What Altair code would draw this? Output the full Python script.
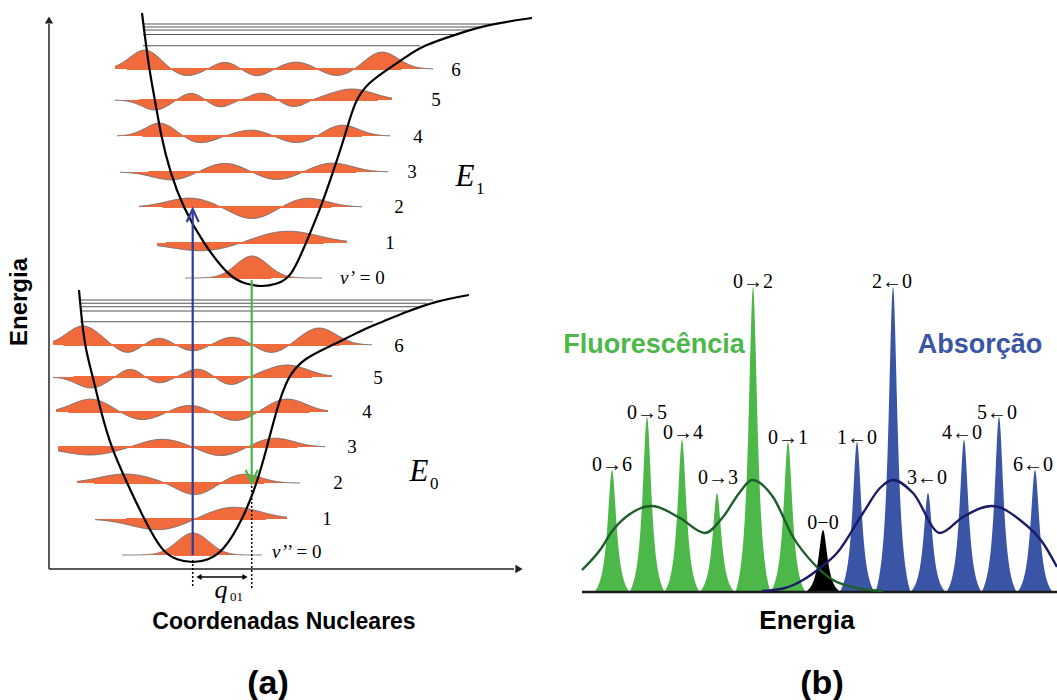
import altair as alt
import numpy as np
import pandas as pd

W, H = 1057, 700
SANS = "Liberation Sans, Arial, Helvetica, sans-serif"
SERIF = "Liberation Serif, Times New Roman, serif"
ORANGE = "#F06A3C"
GREEN = "#4DB84A"
BLUE = "#3A55A5"
ARROW_BLUE = "#2E3D9A"
ARROW_GREEN = "#45B84A"
ENV_GREEN = "#1D5E2C"
ENV_BLUE = "#1C1C66"

# ---------------- panel (a): potential curves ----------------
E0_x = [79, 84, 93, 101, 111, 127, 144, 162, 177, 193, 208, 223, 243, 257, 267, 276, 287, 304, 333, 362, 382, 406, 436, 469]
E0_y = [290, 345, 377, 412, 447, 483, 519, 552, 560, 563, 560, 552, 519, 483, 447, 412, 377, 358, 345, 330, 322, 312, 301, 295]
E1_x = [142, 149, 155, 161, 170, 183, 203, 230, 246, 262, 277, 291, 306, 321, 333, 345, 355, 368, 388, 406, 422, 457, 490, 532]
E1_y = [13, 69, 100, 136, 172, 207, 243, 278, 284, 287, 284, 278, 243, 207, 172, 136, 100, 83, 69, 57, 46, 34, 24, 18]

# dissociation-limit lines
E0_diss_y = [300, 303.3, 306.7, 311, 321.7]
E0_diss_x1 = [433, 427, 420, 407, 373]
E0_diss_x0 = 80
E1_diss_y = [24, 27, 30, 34.5, 45.7]
E1_diss_x1 = [490, 482, 472, 457, 420]
E1_diss_x0 = 143

# vibrational levels: baseline, line start/end, lobe positions and signed heights
E0_base = [555, 519, 483, 447, 412, 377, 345]
E0_start = [122, 95, 77, 58, 56, 53, 53]
E0_end = [262, 287, 300, 325, 328, 332, 372]
E0_lobe_x = [[193], [159, 233], [125, 195, 243], [90, 162, 221, 274],
             [91, 142, 190, 236, 287], [91, 130, 159, 198, 231, 287],
             [83, 127, 159, 193, 233, 272, 319]]
E0_lobe_h = [[22], [-11, 12], [9, -12, 9], [-8, 8, -9, 9],
             [13, -8, 7, -9, 13], [-11, 8, -6, 8, -8, 12],
             [19, -8, 7, -6, 8, -8, 17]]

E1_base = [278, 243, 207, 172, 136, 100, 69]
E1_start = [185, 157, 139, 120, 117, 115, 115]
E1_end = [322, 347, 362, 388, 390, 392, 433]
E1_lobe_x = [[252], [203, 287], [190, 252, 307], [172, 225, 277, 332],
             [160, 200, 252, 297, 342], [155, 191, 220, 262, 294, 352],
             [145, 186, 225, 257, 297, 338, 382]]
E1_lobe_h = [[22], [-8, 12], [9, -12, 9], [-8, 9, -8, 9],
             [13, -7, 6, -7, 11], [-10, 7, -7, 7, -7, 11],
             [19, -7, 7, -7, 7, -7, 17]]

level_labels = ["1", "2", "3", "4", "5", "6"]
E0_lab_x = [327, 338, 352, 367, 378, 399]
E0_lab_y = [519, 483, 447, 412, 378, 346]
E1_lab_x = [390, 399, 412, 418, 436, 456]
E1_lab_y = [243, 207, 172, 137, 100, 70]

# transitions
blue_x, blue_y0, blue_y1 = 192.7, 555, 209
green_x, green_y0, green_y1 = 251.7, 280, 483

# ---------------- panel (b): spectrum ----------------
base_b = 592
fl_x = [612, 647, 682, 717, 753, 788]
fl_top = [470, 417, 440, 493, 287, 442]
fl_lab = ["0→6", "0→5", "0→4", "0→3", "0→2", "0→1"]
fl_lab_x = [612, 647, 683, 718, 753, 788]
fl_lab_y = [465, 413, 433, 478, 282, 438]
ab_x = [857, 893, 928, 964, 999, 1035]
ab_top = [442, 287, 493, 440, 417, 470]
ab_lab = ["1←0", "2←0", "3←0", "4←0", "5←0", "6←0"]
ab_lab_x = [857, 892, 927, 962, 997, 1033]
ab_lab_y = [438, 282, 478, 433, 413, 465]
zz_x, zz_top = 823, 530

env_g_x = [582, 600, 613, 630, 652, 680, 705, 723, 740, 752, 773, 793, 813, 833, 857, 883]
env_g_y = [570, 550, 530, 514, 506, 518, 533, 517, 492, 480, 497, 537, 563, 580, 588, 591]
env_b_x = [762, 785, 803, 820, 837, 863, 880, 893, 913, 940, 963, 992, 1020, 1043, 1057]
env_b_y = [591, 588, 580, 568, 553, 513, 488, 480, 493, 533, 517, 506, 520, 543, 567]

# ---------------- helpers ----------------
X = alt.X("x:Q", scale=alt.Scale(domain=[0, W], nice=False, zero=False), axis=None)
Y = alt.Y("y:Q", scale=alt.Scale(domain=[H, 0], nice=False, zero=False), axis=None)


def seg_df(segs):
    rows = []
    for g, pts in enumerate(segs):
        for i, (x, y) in enumerate(pts):
            rows.append({"x": float(x), "y": float(y), "g": g, "i": i})
    return pd.DataFrame(rows)


def lines(segs, color, width=1.0, dash=None, interp="linear"):
    kw = dict(color=color, strokeWidth=width, interpolate=interp)
    if dash:
        kw["strokeDash"] = dash
    return alt.Chart(seg_df(segs)).mark_line(**kw).encode(X, Y, detail="g:N", order=alt.Order("i:Q"))


def texts(xs, ys, labels, size, font=SANS, weight="normal", style="normal",
          color="black", align="center", baseline="middle", angle=0):
    df = pd.DataFrame({"x": xs, "y": ys, "t": labels})
    kw = dict(fontSize=size, font=font, fontWeight=weight, fontStyle=style,
              color=color, align=align, baseline=baseline)
    if angle:
        kw["angle"] = angle
    return alt.Chart(df).mark_text(**kw).encode(X, Y, text="t:N")


def heads(xs, ys, shapes, sizes, color="black"):
    df = pd.DataFrame({"x": xs, "y": ys, "s": shapes, "sz": sizes})
    return alt.Chart(df).mark_point(filled=True, color=color, opacity=1, strokeWidth=0).encode(
        X, Y, shape=alt.Shape("s:N", scale=None), size=alt.Size("sz:Q", scale=None))


SIG0, SIGF = 16.0, 0.37
area_rows, outline_segs, band_segs = [], [], []
gid = 0
for bases, starts, ends, lxs, lhs in [(E0_base, E0_start, E0_end, E0_lobe_x, E0_lobe_h),
                                       (E1_base, E1_start, E1_end, E1_lobe_x, E1_lobe_h)]:
    for b, x0, x1, lx, lh in zip(bases, starts, ends, lxs, lhs):
        lx = np.array(lx, float)
        lh = np.array(lh, float)
        if len(lx) == 1:
            sig = np.array([SIG0])
        else:
            d = np.diff(lx)
            sp = np.empty(len(lx))
            sp[0], sp[-1] = d[0], d[-1]
            sp[1:-1] = np.minimum(d[:-1], d[1:])
            sig = SIGF * sp
        xs = np.linspace(x0, x1, 260)
        f = (lh[None, :] * np.exp(-((xs[:, None] - lx[None, :]) ** 2) / (2 * sig[None, :] ** 2))).sum(1)
        ys = b - f
        for x, y in zip(xs, ys):
            area_rows.append({"x": x, "y": y, "y2": b, "g": gid})
        outline_segs.append(list(zip(xs, ys)))
        band_segs.append([(lx[0] - 1.2 * sig[0], b), (lx[-1] + 1.2 * sig[-1], b)])
        gid += 1

layers = []
# dissociation lines
diss = [[(E0_diss_x0, y), (x1, y)] for y, x1 in zip(E0_diss_y, E0_diss_x1)] + \
       [[(E1_diss_x0, y), (x1, y)] for y, x1 in zip(E1_diss_y, E1_diss_x1)]
layers.append(lines(diss, "#555555", 1.1))
# wavefunctions
layers.append(alt.Chart(pd.DataFrame(area_rows)).mark_area(color=ORANGE, opacity=1).encode(
    X, Y, y2="y2:Q", detail="g:N"))
layers.append(lines(outline_segs, "#6a6a6a", 0.9))
layers.append(lines(band_segs, ORANGE, 2.2))
# potentials
layers.append(lines([list(zip(E0_x, E0_y)), list(zip(E1_x, E1_y))], "black", 2.2, interp="basis"))
# axes
layers.append(lines([[(49, 569), (49, 24)], [(49, 569), (514, 569)]], "#222222", 1.5))
layers.append(heads([49, 519], [20, 569], ["triangle-up", "triangle-right"], [70, 70], "#222222"))
# transitions
layers.append(lines([[(blue_x, blue_y0), (blue_x, blue_y1)],
                     [(blue_x - 6, blue_y1 + 13), (blue_x, blue_y1), (blue_x + 6, blue_y1 + 13)]],
                    ARROW_BLUE, 2.2))
layers.append(lines([[(green_x, green_y0), (green_x, green_y1)],
                     [(green_x - 6, green_y1 - 13), (green_x, green_y1), (green_x + 6, green_y1 - 13)]],
                    ARROW_GREEN, 2.2))
# q01 displacement
layers.append(lines([[(blue_x, 560), (blue_x, 588)], [(green_x, 486), (green_x, 588)]],
                    "black", 1.5, dash=[2, 2]))
layers.append(lines([[(198, 577), (246, 577)]], "black", 1.6))
layers.append(heads([199, 245], [577, 577], ["triangle-left", "triangle-right"], [35, 35]))

# panel (a) texts
layers.append(texts(E0_lab_x + E1_lab_x, E0_lab_y + E1_lab_y, level_labels + level_labels, 19, font=SERIF))
layers.append(texts([272, 340], [552, 278], ["v", "v"], 19, font=SERIF, style="italic", align="left"))
layers.append(texts([282, 350], [552, 278], ["\u2019\u2019 = 0", "\u2019 = 0"], 19, font=SERIF, align="left"))
layers.append(texts([419, 465], [472, 177], ["E", "E"], 31, font=SERIF, style="italic"))
layers.append(texts([430, 476], [484, 189], ["0", "1"], 17, font=SERIF, align="left"))
layers.append(texts([221], [590], ["q"], 26, font=SERIF, style="italic"))
layers.append(texts([230], [597], ["01"], 13, font=SERIF, align="left"))
layers.append(texts([20], [302], ["Energia"], 24, weight="bold", angle=270))
layers.append(texts([284], [622], ["Coordenadas Nucleares"], 23, weight="bold"))
layers.append(texts([268], [684], ["(a)"], 34, weight="bold"))

# ---------------- panel (b) ----------------
GAM, HALF = 5.5, 17.5


def peak_rows(cx, top, gid0):
    rows = []
    c0 = 1 / (1 + (HALF / GAM) ** 2)
    for k, (c, t) in enumerate(zip(cx, top)):
        h = base_b - t
        xs = np.linspace(c - HALF, c + HALF, 141)
        L = 1 / (1 + ((xs - c) / GAM) ** 2)
        s = np.clip((L - c0) / (1 - c0), 0, None)
        for x, v in zip(xs, s):
            rows.append({"x": x, "y": base_b - h * v, "y2": base_b, "g": gid0 + k})
    return pd.DataFrame(rows)


for cx, top, col, g0 in [(fl_x, fl_top, GREEN, 0), (ab_x, ab_top, BLUE, 20), ([zz_x], [zz_top], "black", 40)]:
    layers.append(alt.Chart(peak_rows(cx, top, g0)).mark_area(color=col, opacity=1).encode(
        X, Y, y2="y2:Q", detail="g:N"))
layers.append(lines([[(582, base_b), (1057, base_b)]], "#1a1a1a", 2.5))
layers.append(lines([list(zip(env_g_x, env_g_y))], ENV_GREEN, 2.4, interp="monotone"))
layers.append(lines([list(zip(env_b_x, env_b_y))], ENV_BLUE, 2.4, interp="monotone"))

layers.append(texts(fl_lab_x + ab_lab_x + [823], fl_lab_y + ab_lab_y + [523],
                    fl_lab + ab_lab + ["0\u22120"], 20, font=SERIF))
layers.append(texts([654], [353], ["Fluorescência"], 27, weight="bold", color=GREEN, baseline="alphabetic"))
layers.append(texts([980], [353], ["Absorção"], 27, weight="bold", color="#3A55A5", baseline="alphabetic"))
layers.append(texts([807], [621], ["Energia"], 26, weight="bold"))
layers.append(texts([822], [684], ["(b)"], 34, weight="bold"))

chart = alt.layer(*layers).properties(
    width=W, height=H, padding=0, autosize=alt.AutoSizeParams(type="none"),
    background="white"
).configure_view(stroke=None)

chart.save("out.html", embed_options={"renderer": "svg", "actions": False})
